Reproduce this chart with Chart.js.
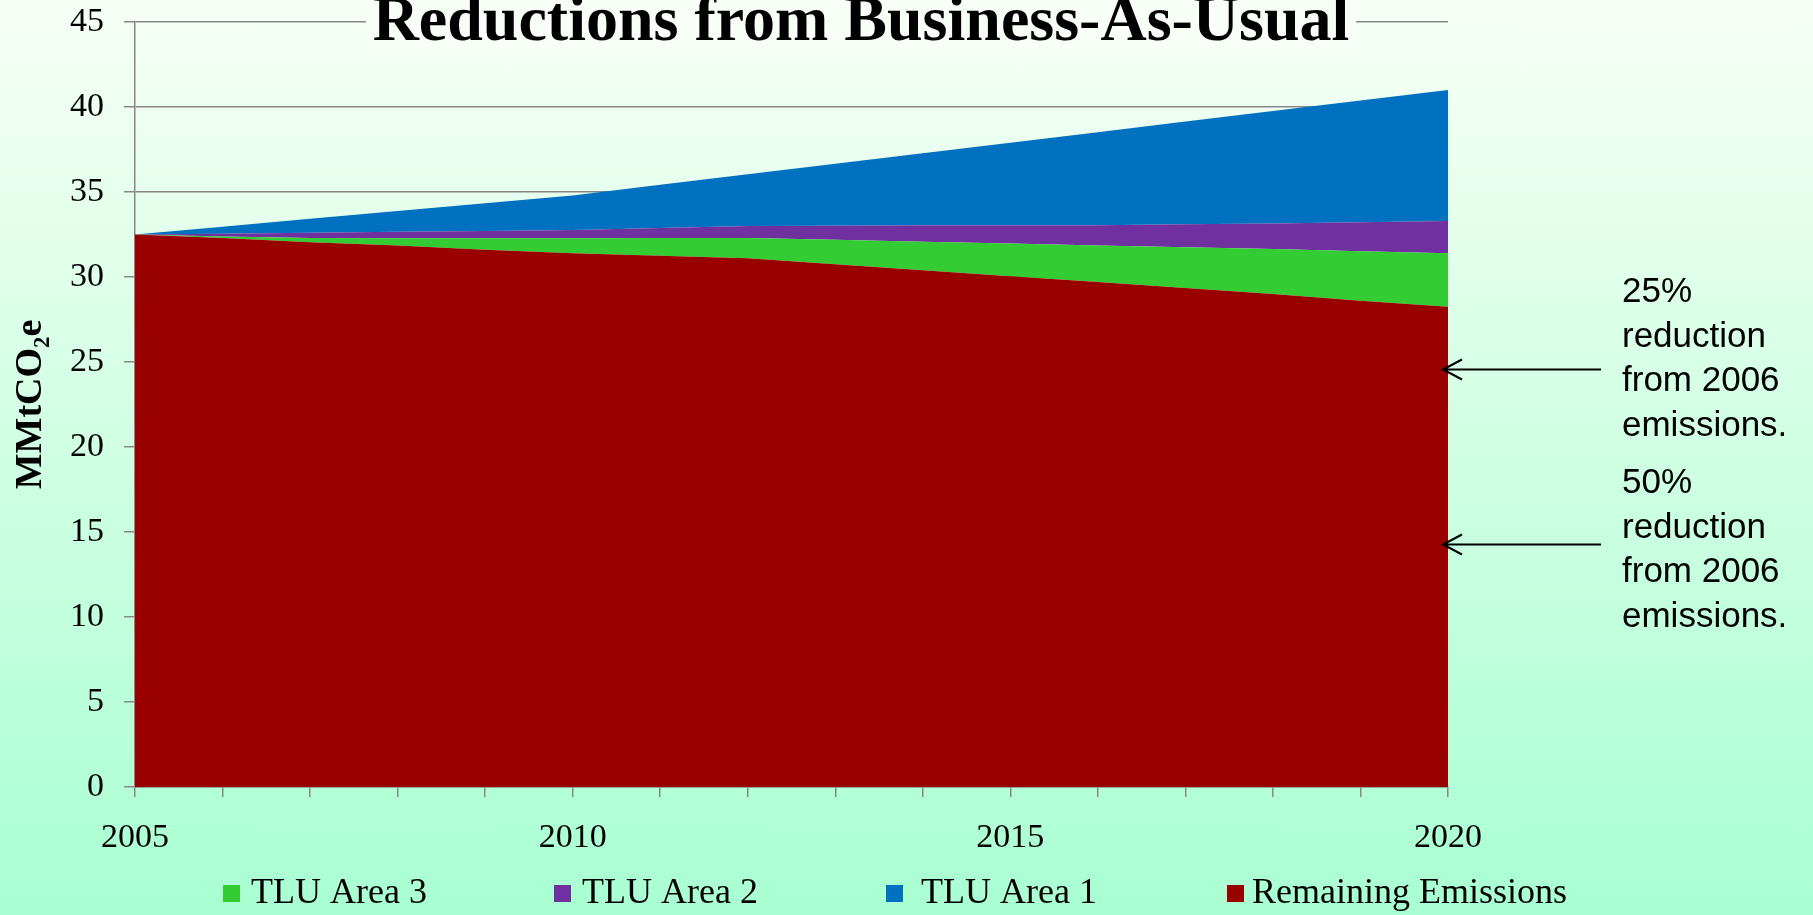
<!DOCTYPE html>
<html>
<head>
<meta charset="utf-8">
<script src="https://cdn.jsdelivr.net/npm/chart.js@4.4.1/dist/chart.umd.min.js"></script>
<style>
  html, body { margin: 0; padding: 0; }
  body { width: 1813px; height: 915px; overflow: hidden;
         background: linear-gradient(to bottom, #f7fff5 0%, #a8ffd2 100%); }
  #wrap { position: relative; width: 1813px; height: 915px; }
</style>
</head>
<body>
<div id="wrap"><canvas id="area-chart"></canvas></div>
<script>
// Years on the horizontal axis (one tick each, label every 5 years)
const years = [2005, 2006, 2007, 2008, 2009, 2010, 2011, 2012, 2013, 2014, 2015, 2016, 2017, 2018, 2019, 2020];
const labeledYears = [2005, 2010, 2015, 2020];

// Stacked layers, MMtCO2e (bottom to top)
const remaining = [32.5, 32.3, 32.05, 31.85, 31.6, 31.4, 31.25, 31.1, 30.75, 30.4, 30.05, 29.7, 29.35, 29.0, 28.6, 28.25];
const tluArea3  = [0, 0.08, 0.25, 0.43, 0.68, 0.88, 1.05, 1.2, 1.44, 1.68, 1.92, 2.16, 2.4, 2.64, 2.92, 3.15];
const tluArea2  = [0, 0.17, 0.3, 0.38, 0.42, 0.48, 0.58, 0.7, 0.83, 0.96, 1.08, 1.19, 1.35, 1.51, 1.7, 1.9];
const tluArea1  = [0, 0.41, 0.82, 1.22, 1.64, 2.04, 2.54, 3.04, 3.64, 4.24, 4.85, 5.47, 6.04, 6.61, 7.16, 7.7];

// Y axis range
const yMin = 0, yMax = 45, yStep = 5;

// Arrow targets (MMtCO2e) and their notes
const arrowValues = [24.6, 14.3];
const noteLines = [
  ['25%', 'reduction', 'from 2006', 'emissions.'],
  ['50%', 'reduction', 'from 2006', 'emissions.']
];

// legend order as shown in the picture
const legendNames  = ['TLU Area 3', 'TLU Area 2', 'TLU Area 1', 'Remaining Emissions'];
const legendColors = ['#33cc33', '#7030a0', '#0070c0', '#990000'];

const serif = '"Liberation Serif", "Times New Roman", serif';
const sans = '"Liberation Sans", Arial, sans-serif';

// Title box, legend and arrow notes
const extrasPlugin = {
  id: 'extras',
  afterDraw(chart) {
    const ctx = chart.ctx;
    const area = chart.chartArea;
    ctx.save();

    // title with its own box over the top gridline
    ctx.fillStyle = '#f8fff7';
    ctx.fillRect(366, 0, 990, 55);
    ctx.fillStyle = '#000';
    ctx.font = 'bold 64px ' + serif;
    ctx.textAlign = 'center';
    ctx.textBaseline = 'alphabetic';
    ctx.fillText('Reductions from Business-As-Usual', 861, 40);

    // legend
    const legendX = [223, 554, 886, 1227];
    const textX = [251, 582, 921, 1252];
    ctx.font = '36px ' + serif;
    ctx.textAlign = 'left';
    ctx.textBaseline = 'middle';
    legendNames.forEach((name, i) => {
      ctx.fillStyle = legendColors[i];
      ctx.fillRect(legendX[i], 885, 17, 17);
      ctx.fillStyle = '#000';
      ctx.fillText(name, textX[i], 894);
    });

    // arrows + notes
    const firstBaseline = [302, 493];
    ctx.strokeStyle = '#000';
    ctx.lineWidth = 2;
    arrowValues.forEach((v, i) => {
      const y = Math.round(chart.scales.y.getPixelForValue(v)) + 0.5;
      const tip = area.right - 5;
      ctx.beginPath();
      ctx.moveTo(tip, y);
      ctx.lineTo(1601, y);
      ctx.moveTo(tip + 19, y - 10);
      ctx.lineTo(tip, y);
      ctx.lineTo(tip + 19, y + 10);
      ctx.stroke();

      ctx.fillStyle = '#000';
      ctx.font = '35px ' + sans;
      ctx.textAlign = 'left';
      ctx.textBaseline = 'alphabetic';
      noteLines[i].forEach((line, j) => {
        ctx.fillText(line, 1622, firstBaseline[i] + j * 44.5);
      });
    });
    ctx.restore();
  }
};

const chartCanvas = document.querySelector('#area-chart');

const areaChart = new Chart(chartCanvas, {
  type: 'line',
  data: {
    labels: years,
    datasets: [
      { label: 'Remaining Emissions', data: remaining, backgroundColor: '#990000', fill: 'origin' },
      { label: 'TLU Area 3', data: tluArea3, backgroundColor: '#33cc33', fill: '-1' },
      { label: 'TLU Area 2', data: tluArea2, backgroundColor: '#7030a0', fill: '-1' },
      { label: 'TLU Area 1', data: tluArea1, backgroundColor: '#0070c0', fill: '-1' }
    ]
  },
  options: {
    responsive: true,
    maintainAspectRatio: false,
    animation: false,
    elements: {
      point: { radius: 0 },
      line: { borderWidth: 0, tension: 0 }
    },
    layout: { padding: { top: 22, right: 365, left: 0, bottom: 0 } },
    plugins: {
      legend: { display: false },
      tooltip: { enabled: false }
    },
    scales: {
      x: {
        stacked: true,
        offset: false,
        afterFit: (scale) => {
          scale.height = 128;
          scale.paddingLeft = 0;
          scale.paddingRight = 0;
        },
        grid: { drawOnChartArea: false, color: '#888', lineWidth: 1.5, tickLength: 10 },
        border: { color: '#888', width: 1.5 },
        ticks: {
          autoSkip: false,
          maxRotation: 0,
          padding: 21,
          color: '#000',
          font: { family: serif, size: 34 },
          callback: function (value, index) {
            return labeledYears.includes(years[index]) ? String(years[index]) : '';
          }
        }
      },
      y: {
        stacked: true,
        min: yMin,
        max: yMax,
        afterFit: (scale) => {
          scale.width = 135;
          scale.paddingTop = 0;
          scale.paddingBottom = 0;
        },
        grid: { color: '#888', lineWidth: 1.5, tickLength: 11 },
        border: { color: '#888', width: 1.5 },
        ticks: {
          stepSize: yStep,
          padding: 20,
          color: '#000',
          font: { family: serif, size: 34 }
        },
        title: {
          display: true,
          text: 'MMtCO₂e',
          color: '#000',
          font: { family: serif, size: 38, weight: 'bold' },
          padding: { top: 8, bottom: 0 }
        }
      }
    }
  },
  plugins: [extrasPlugin]
});
</script>
</body>
</html>
